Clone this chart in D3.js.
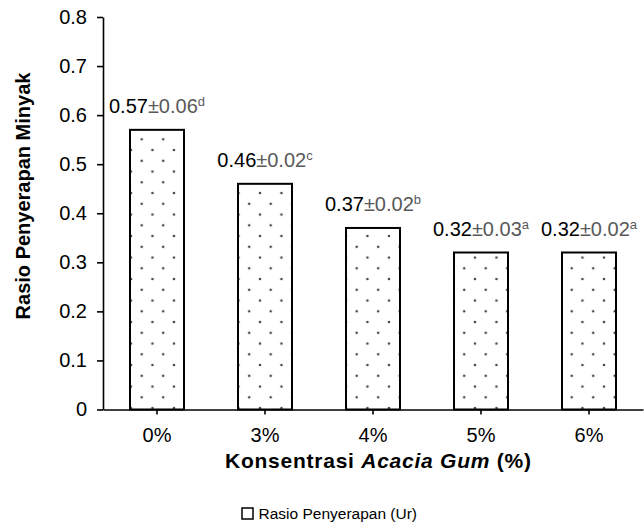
<!DOCTYPE html>
<html>
<head>
<meta charset="utf-8">
<script src="https://cdn.jsdelivr.net/npm/d3@7"></script>
<style>
  html, body { margin: 0; padding: 0; background: #fff; }
  svg { display: block; }
  svg text { font-family: "Liberation Sans", Arial, sans-serif; }
</style>
</head>
<body>
<svg id="chart" width="644" height="528"></svg>
<script>
const categories = ["0%", "3%", "4%", "5%", "6%"];
const values = [0.57, 0.46, 0.37, 0.32, 0.32];
const errors = [0.06, 0.02, 0.02, 0.03, 0.02];
const letters = ["d", "c", "b", "a", "a"];
const yTicks = [0, 0.1, 0.2, 0.3, 0.4, 0.5, 0.6, 0.7, 0.8];
const legendLabel = "Rasio Penyerapan (Ur)";

const svg = d3.select("#chart");

const x = d3.scaleBand().domain(categories).range([103, 643]).paddingInner(0.5).paddingOuter(0.25);
const y = d3.scaleLinear().domain([0, 0.8]).range([409.5, 17]);

// dotted fill
const defs = svg.append("defs");
const pat = defs.append("pattern")
  .attr("id", "dots")
  .attr("patternUnits", "userSpaceOnUse")
  .attr("x", 12.7).attr("y", 10.3)
  .attr("width", 21.5).attr("height", 21.5);
pat.append("rect").attr("width", 21.5).attr("height", 21.5).attr("fill", "#fff");
[[0,0],[21.5,0],[0,21.5],[21.5,21.5],[10.75,10.75]].forEach(([cx, cy]) => {
  pat.append("circle").attr("cx", cx).attr("cy", cy).attr("r", 1.3).attr("fill", "#444");
});

// bars
svg.append("g").selectAll("rect")
  .data(values)
  .join("rect")
  .attr("x", (d, i) => x(categories[i]))
  .attr("y", d => y(d))
  .attr("width", x.bandwidth())
  .attr("height", d => y(0) - y(d))
  .attr("fill", "url(#dots)")
  .attr("stroke", "#000")
  .attr("stroke-width", 2);

// y axis
const yAxis = svg.append("g")
  .attr("transform", `translate(${103},0)`)
  .call(d3.axisLeft(y).tickValues(yTicks).tickSize(6).tickSizeOuter(0)
    .tickFormat(d => d === 0 ? "0" : d.toFixed(1)));
yAxis.attr("font-family", null);
yAxis.select(".domain").attr("stroke", "#000").attr("stroke-width", 1.6);
yAxis.selectAll(".tick line").attr("stroke", "#000").attr("stroke-width", 1.6);
yAxis.selectAll(".tick text")
  .attr("x", -16)
  .attr("font-size", 20).attr("fill", "#000");

// x axis
const xAxis = svg.append("g")
  .attr("transform", `translate(0,${y(0)})`)
  .call(d3.axisBottom(x).tickSize(5).tickSizeOuter(0));
xAxis.attr("font-family", null);
xAxis.select(".domain").attr("stroke", "#000").attr("stroke-width", 1.6);
xAxis.selectAll(".tick line").attr("stroke", "#000").attr("stroke-width", 1.6);
xAxis.selectAll(".tick text")
  .attr("y", 32)
  .attr("dy", null)
  .attr("font-size", 20).attr("fill", "#000");

// value labels
const lab = svg.append("g").selectAll("text")
  .data(values)
  .join("text")
  .attr("x", (d, i) => x(categories[i]) + x.bandwidth() / 2)
  .attr("y", d => y(d) - 16.5)
  .attr("text-anchor", "middle")
  .attr("font-size", 20);
lab.append("tspan").attr("fill", "#000").text(d => d.toFixed(2));
lab.append("tspan").attr("fill", "#595959").text((d, i) => "±" + errors[i].toFixed(2));
lab.append("tspan").attr("fill", "#595959").attr("font-size", 13).attr("dy", -7).text((d, i) => letters[i]);

// axis titles
svg.append("text")
  .attr("transform", `translate(30,196) rotate(-90)`)
  .attr("text-anchor", "middle")
  .attr("font-size", 20).attr("font-weight", "bold")
  .text("Rasio Penyerapan Minyak");

const xt = svg.append("text")
  .attr("x", 378)
  .attr("y", 467.5)
  .attr("text-anchor", "middle")
  .attr("font-size", 21)
  .attr("textLength", 306)
  .attr("lengthAdjust", "spacing")
  .attr("font-weight", "bold");
xt.append("tspan").text("Konsentrasi ");
xt.append("tspan").attr("font-style", "italic").text("Acacia Gum");
xt.append("tspan").text(" (%)");

// legend
const lg = svg.append("g").attr("transform", "translate(242,508)");
lg.append("rect").attr("width", 11).attr("height", 11).attr("fill", "#fff").attr("stroke", "#000").attr("stroke-width", 1.5);
lg.append("text").attr("x", 16.5).attr("y", 10.5).attr("font-size", 15.5).text(legendLabel);
</script>
</body>
</html>
